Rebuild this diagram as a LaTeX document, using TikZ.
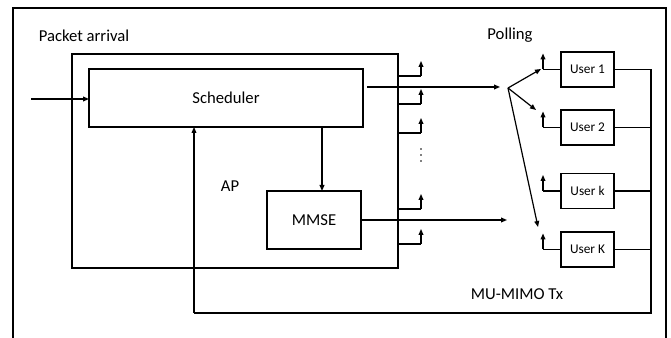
\documentclass[tikz,border=0pt]{standalone}
\usepackage{fontspec}
\setmainfont{Carlito}
\usetikzlibrary{arrows.meta}
\tikzset{
  blk/.style={draw, line width=1.1pt, inner sep=0pt, outer sep=0pt, font=\fontsize{12.5}{14}\selectfont},
  ublk/.style={draw, line width=1.1pt, inner sep=0pt, outer sep=0pt, minimum width=39.75pt, minimum height=26.25pt, font=\fontsize{10}{12}\selectfont},
  lbl/.style={inner sep=0pt, font=\fontsize{12.5}{14}\selectfont},
  arr/.style={line width=0.9pt, -{Triangle[length=4.5pt,width=3.6pt]}},
  ln/.style={line width=0.9pt},
  fb/.style={line width=0.8pt}
}
\begin{document}
\begin{tikzpicture}[x=0.75pt,y=-0.75pt]
\useasboundingbox (0,0) rectangle (671,338);
% outer frame
\draw[line width=1.4pt] (13,338) -- (13,8) -- (666,8) -- (666,338);
% boxes
\node[blk, minimum width=244.5pt, minimum height=160.5pt] (ap) at (235,161) {};
\node[blk, minimum width=205.5pt, minimum height=43.5pt] (sched) at (226,98) {Scheduler};
\node[blk, minimum width=70.5pt, minimum height=43.5pt] (mmse) at (314,220) {MMSE};
\node[ublk] (u1) at (587.5,69.5) {User 1};
\node[ublk] (u2) at (587.5,127.5) {User 2};
\node[ublk] (uk) at (587.5,191) {User k};
\node[ublk] (uK) at (587.5,249.5) {User K};
% labels
\node[lbl] (pa) at (84,36) {Packet arrival};
\node[lbl] (apl) at (230,186) {AP};
\node[lbl] (pol) at (510,35) {Polling};
\node[lbl] (mu) at (517,294) {MU-MIMO Tx};
% input
\coordinate (in) at (31,99);
\draw[arr] (in) -- (in -| sched.west);
% scheduler to MMSE
\coordinate (s2m) at (322,127);
\draw[arr] (s2m) -- (s2m |- mmse.north);
% outputs to polling
\coordinate (so) at (367,87);
\coordinate (soe) at (500,87);
\draw[arr] (so) -- (soe);
\coordinate (moe) at (507,220);
\draw[arr] (mmse.east) -- (moe);
% fan
\coordinate (fan) at (508,88);
\coordinate (f1) at (541,69);
\coordinate (f2) at (536,110);
\coordinate (f3) at (538,227);
\draw[arr] (fan) -- (f1);
\draw[arr] (fan) -- (f2);
\draw[arr] (fan) -- (f3);
% antenna stubs on AP
\foreach \y [count=\i] in {76,104,133,209,244}{
  \coordinate (a\i) at (398,\y);
  \coordinate (b\i) at (421,\y);
  \draw[ln] (a\i) -- (b\i);
  \draw[arr] (b\i) -- ++(0,-15);
}
% dots
\foreach \y in {149,155,161}{\fill (421,\y) circle (0.9);}
% user stubs
\foreach \u in {u1,u2,uk,uK}{
  \coordinate (\u s) at ([xshift=-13.5pt]\u.west);
  \draw[ln] (\u.west) -- (\u s);
  \draw[arr] (\u s) -- ++(0,-16);
}
% feedback loop
\coordinate (fbR) at (651,313);
\coordinate (fbL) at (194,313);
\draw[fb] (u1.east) -| (fbR) -- (fbL);
\draw[fb,-{Triangle[length=4.5pt,width=3.6pt]}] (fbL) -- (fbL |- sched.south);
\draw[fb] (u2.east) -- (u2.east -| fbR);
\draw[fb] (uk.east) -- (uk.east -| fbR);
\draw[fb] (uK.east) -- (uK.east -| fbR);
\end{tikzpicture}
\end{document}
